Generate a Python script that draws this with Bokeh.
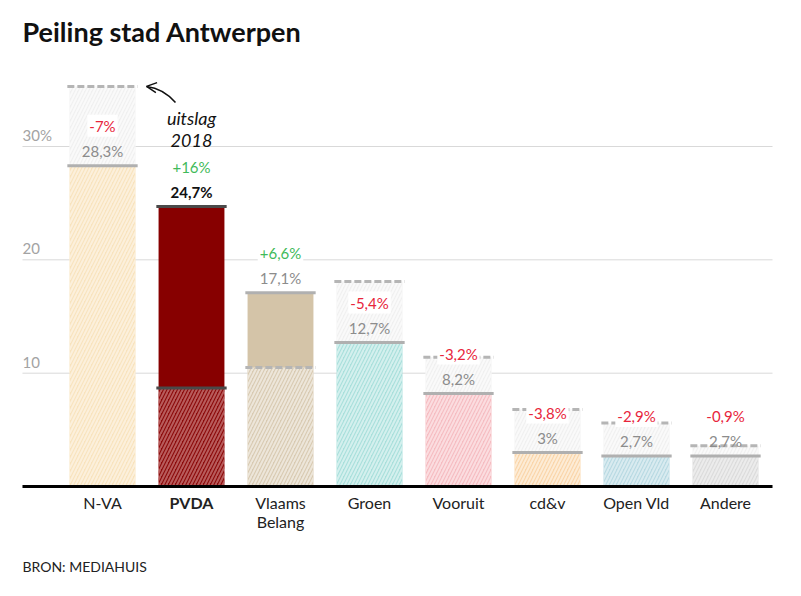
from bokeh.plotting import figure
from bokeh.models import Range1d, ColumnDataSource, Label, Arrow, OpenHead
from bokeh.core.properties import value
from bokeh.embed import file_html
from bokeh.resources import INLINE

# ---- data ----
parties = ["N-VA", "PVDA", "Vlaams\nBelang", "Groen", "Vooruit", "cd&v", "Open Vld", "Andere"]
poll = [28.3, 24.7, 17.1, 12.7, 8.2, 3.0, 2.7, 2.7]
result_2018 = [35.3, 8.7, 10.5, 18.1, 11.4, 6.8, 5.6, 3.6]
change_labels = ["-7%", "+16%", "+6,6%", "-5,4%", "-3,2%", "-3,8%", "-2,9%", "-0,9%"]
poll_labels = ["28,3%", "24,7%", "17,1%", "12,7%", "8,2%", "3%", "2,7%", "2,7%"]
grid_ticks = [10, 20, 30]
tick_labels = ["10", "20", "30%"]

# ---- styles ----
base_fill = ["#f8e3bd", "#8c0a0a", "#d8cab2", "#a9dfdb", "#f5bcc1", "#fad5a9", "#b8d9e2", "#dbdbdb"]
base_hatch = ["#fcf0dc", "#b85c5c", "#ede6da", "#d4f0ee", "#fbdde0", "#fdecd6", "#d9ebf0", "#ececec"]
solid_fill = ["#f5d99e", "#870000", "#d4c4a8", "#8fd3cf", "#f0a0a8", "#f8c88a", "#9fcbd8", "#cccccc"]
FONT = "Lato"
BAR_W = 0.74
LINE_HALF = BAR_W / 2 + 0.025
XMIN, XMAX = -0.899, 7.528

n = len(parties)
xs = list(range(n))

p = figure(width=785, height=580, x_range=Range1d(-1.146, 7.674), y_range=Range1d(-8.29, 42.88),
           x_axis_type=None, y_axis_type=None, toolbar_location=None, output_backend="svg",
           min_border=0, min_border_left=0, min_border_right=0, min_border_top=0, min_border_bottom=0,
           title=None)
p.outline_line_color = None
p.background_fill_color = "white"
p.border_fill_color = "white"

# gridlines
p.segment(x0=[XMIN] * len(grid_ticks), x1=[XMAX] * len(grid_ticks), y0=grid_ticks, y1=grid_ticks,
          line_color="#d9d9d9", line_width=1)
p.text(x=[XMIN] * len(grid_ticks), y=grid_ticks, text=tick_labels, text_align="left",
       text_baseline="middle", y_offset=-11, text_font=value(FONT), text_font_size="15px",
       text_color="#a3a3a3")

lower = [min(a, b) for a, b in zip(poll, result_2018)]
upper = [max(a, b) for a, b in zip(poll, result_2018)]
gain = [a > b for a, b in zip(poll, result_2018)]

# lower hatched part
src_low = ColumnDataSource(dict(x=xs, top=lower, fill=base_fill, hatch=base_hatch))
p.vbar(x="x", top="top", bottom=0, width=BAR_W, source=src_low, fill_color="fill", line_color=None,
       hatch_pattern="/", hatch_color="hatch", hatch_scale=7, hatch_weight=2)

# upper part: gains solid, losses gray hatched
gi = [i for i in xs if gain[i]]
li = [i for i in xs if not gain[i]]
p.vbar(x=gi, bottom=[lower[i] for i in gi], top=[upper[i] for i in gi], width=BAR_W,
       fill_color=[solid_fill[i] for i in gi], line_color=None)
p.vbar(x=li, bottom=[lower[i] for i in li], top=[upper[i] for i in li], width=BAR_W,
       fill_color="#f0f0f0", line_color=None, hatch_pattern="/", hatch_color="#fafafa",
       hatch_scale=7, hatch_weight=2)

# lines: solid at poll, dashed at 2018
line_col = ["#4a4a4a" if parties[i] == "PVDA" else "#b0b0b0" for i in xs]
dash_idx = [i for i in xs if parties[i] != "PVDA"]
solid_idx = [i for i in xs if parties[i] == "PVDA"]
p.segment(x0=[i - LINE_HALF for i in dash_idx], x1=[i + LINE_HALF for i in dash_idx],
          y0=[result_2018[i] for i in dash_idx], y1=[result_2018[i] for i in dash_idx],
          line_color="#b5b5b5", line_width=3, line_dash="7 3")
p.segment(x0=[i - LINE_HALF for i in solid_idx], x1=[i + LINE_HALF for i in solid_idx],
          y0=[result_2018[i] for i in solid_idx], y1=[result_2018[i] for i in solid_idx],
          line_color="#4a4a4a", line_width=3)
p.segment(x0=[i - LINE_HALF for i in xs], x1=[i + LINE_HALF for i in xs], y0=poll, y1=poll,
          line_color=line_col, line_width=3)

# axis line
p.segment(x0=[XMIN], x1=[XMAX], y0=[0], y1=[0], line_color="black", line_width=3)

# labels
chg_col = ["#3fba5a" if g else "#e8253c" for g in gain]
p.text(x=xs, y=poll, text=change_labels, text_align="center", text_baseline="middle", y_offset=-40,
       text_font=value(FONT), text_font_size="15px", text_color=chg_col,
       background_fill_color="white", padding=2)
poll_col = ["#111111" if parties[i] == "PVDA" else "#8c8c8c" for i in xs]
poll_style = ["bold" if parties[i] == "PVDA" else "normal" for i in xs]
p.text(x=xs, y=poll, text=poll_labels, text_align="center", text_baseline="middle", y_offset=-15,
       text_font=value(FONT), text_font_size="15px", text_color=poll_col, text_font_style=poll_style)

# category labels
cat_style = ["bold" if c == "PVDA" else "normal" for c in parties]
p.text(x=xs, y=[0] * n, text=parties, text_align="center", text_baseline="top", y_offset=6,
       text_font=value(FONT), text_font_size="16px", text_color="#222222", text_font_style=cat_style,
       text_line_height=1.0)

# annotation "uitslag 2018"
tip_x = 0 + LINE_HALF + 0.1
tip_y = result_2018[0]
p.quadratic(x0=[0.82], y0=[33.88], x1=[tip_x], y1=[tip_y], cx=[0.685], cy=[35.12],
            line_color="#111111", line_width=1.5)
p.add_layout(Arrow(end=OpenHead(size=10, line_width=1.5, line_color="#111111"),
                   x_start=0.685, y_start=35.12, x_end=tip_x, y_end=tip_y, line_alpha=0))
p.text(x=[1.0], y=[33.45], text=["uitslag\n2018"], text_align="center", text_baseline="top",
       text_font=value(FONT), text_font_size="18px", text_font_style="italic", text_color="#111111",
       text_line_height=1.0)

# title and source
p.add_layout(Label(x=XMIN, y=40.15, text="Peiling stad Antwerpen", text_font=FONT,
                   text_font_size="27px", text_font_style="bold", text_color="#111111",
                   text_baseline="alphabetic"))
p.add_layout(Label(x=XMIN, y=-7.06, text="BRON: MEDIAHUIS", text_font=FONT, text_font_size="14px",
                   text_color="#222222", text_baseline="alphabetic"))

open("out.html", "w").write(file_html(p, INLINE))
